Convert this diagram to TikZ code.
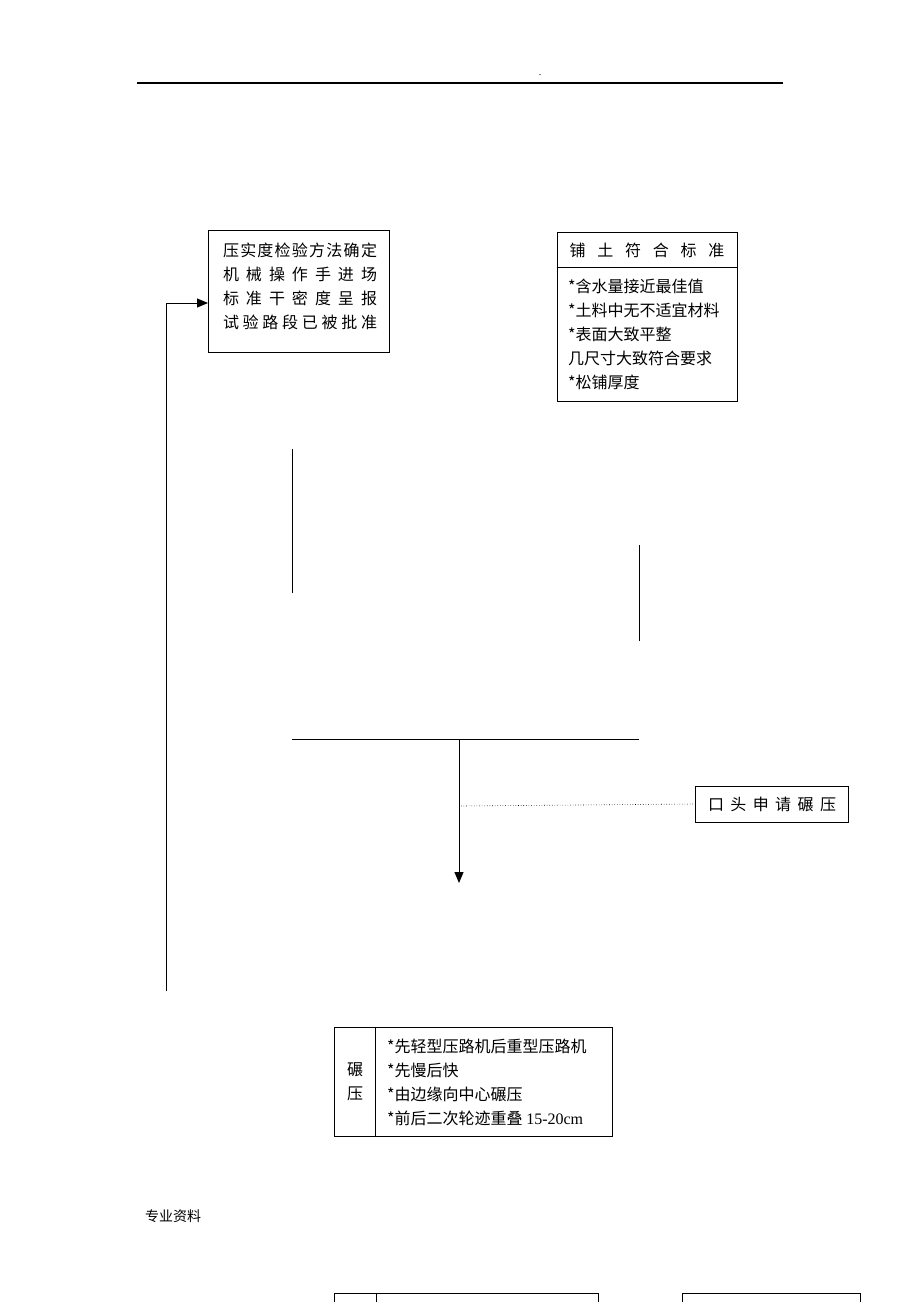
\documentclass[tikz,border=0pt]{standalone}
\usepackage{fontspec}
\setmainfont{Liberation Serif}
\newfontfamily\cjk{Noto Sans CJK SC}
\usetikzlibrary{arrows.meta}

\ExplSyntaxOn
\NewDocumentCommand \spreadrow { m m }
  { \makebox[#1][s]{ \tl_map_inline:nn {#2} { ##1 \hfil } \unskip } }
\ExplSyntaxOff

\tikzset{
  box/.style={draw, line width=1pt, inner sep=0pt},
  txt/.style={font=\cjk\fontsize{16}{24}\selectfont, inner sep=0pt, align=left},
  flow/.style={-{Triangle[length=11pt,width=9pt]}, line width=1pt}
}

\begin{document}
\begin{tikzpicture}[x=1pt, y=-1pt]
    \useasboundingbox (0,0) rectangle (920,1302);

    % page header
    \coordinate (hl) at (137,83);
    \coordinate (hr) at (783,83);
    \draw [line width=1.1pt] (hl) -- (hr);
    \node (dot) at (540,75) {\fontsize{10}{10}\selectfont .};

    % boxes
    \node [box, minimum width=181pt, minimum height=122pt] (std) at (298.5,291) {};
    \node [txt] (stdtxt) at (300,286) {\spreadrow{154pt}{压实度检验方法确定}\\
        \spreadrow{154pt}{机械操作手进场}\\
        \spreadrow{154pt}{标准干密度呈报}\\
        \spreadrow{154pt}{试验路段已被批准}};

    \node [box, minimum width=180pt, minimum height=169pt] (fill) at (647,316.5) {};
    \draw [line width=1pt] (fill.north west) ++(0,36) -- ++(180,0);
    \node [txt] (filltitle) at (647,250) {\spreadrow{155pt}{铺土符合标准}};
    \node [txt, anchor=west] (filltxt) at (568,334) {*含水量接近最佳值\\
        *土料中无不适宜材料\\
        *表面大致平整\\
        几尺寸大致符合要求\\
        *松铺厚度};

    \node [box, minimum width=153pt, minimum height=36pt] (apply) at (771.5,804) {};
    \node [txt] (applytxt) at (772,804) {\spreadrow{128pt}{口头申请碾压}};

    \node [box, minimum width=278pt, minimum height=109pt] (roll) at (473,1081.5) {};
    \draw [line width=1pt] (roll.north west) ++(42,0) -- ++(0,109);
    \node [txt, align=center] (rollname) at (355,1082) {碾\\压};
    \node [txt, anchor=west] (rolltxt) at (387,1082) {*先轻型压路机后重型压路机\\
        *先慢后快\\
        *由边缘向中心碾压\\
        *前后二次轮迹重叠 {\rmfamily 15-20cm}};

    % connectors
    \coordinate (la) at (292,449);
    \coordinate (lb) at (292,593);
    \coordinate (ra) at (639,545);
    \coordinate (rb) at (639,641);
    \coordinate (barl) at (292,739);
    \coordinate (barr) at (639,739);
    \coordinate (merge) at (459,739);
    \coordinate (down) at (459,883);
    \coordinate (tap) at (461,806);
    \coordinate (back) at (166,991);
    \coordinate (backin) at (208,303);

    \draw [line width=1pt] (la) -- (lb);
    \draw [line width=1pt] (ra) -- (rb);
    \draw [line width=1pt] (barl) -- (barr);
    \draw [flow] (merge) -- (down);
    \draw [dotted, line width=0.6pt] (tap) -- (apply.west);
    \draw [flow] (back) |- (backin);

    % page footer
    \node [font=\cjk\fontsize{14}{14}\selectfont, inner sep=0pt] (foot) at (173,1216) {专业资料};
    \draw [line width=1pt] (334,1302) -- (334,1293) -- (598,1293) -- (598,1302);
    \draw [line width=1pt] (376,1293) -- (376,1302);
    \draw [line width=1pt] (682,1302) -- (682,1293) -- (860,1293) -- (860,1302);

\end{tikzpicture}
\end{document}
